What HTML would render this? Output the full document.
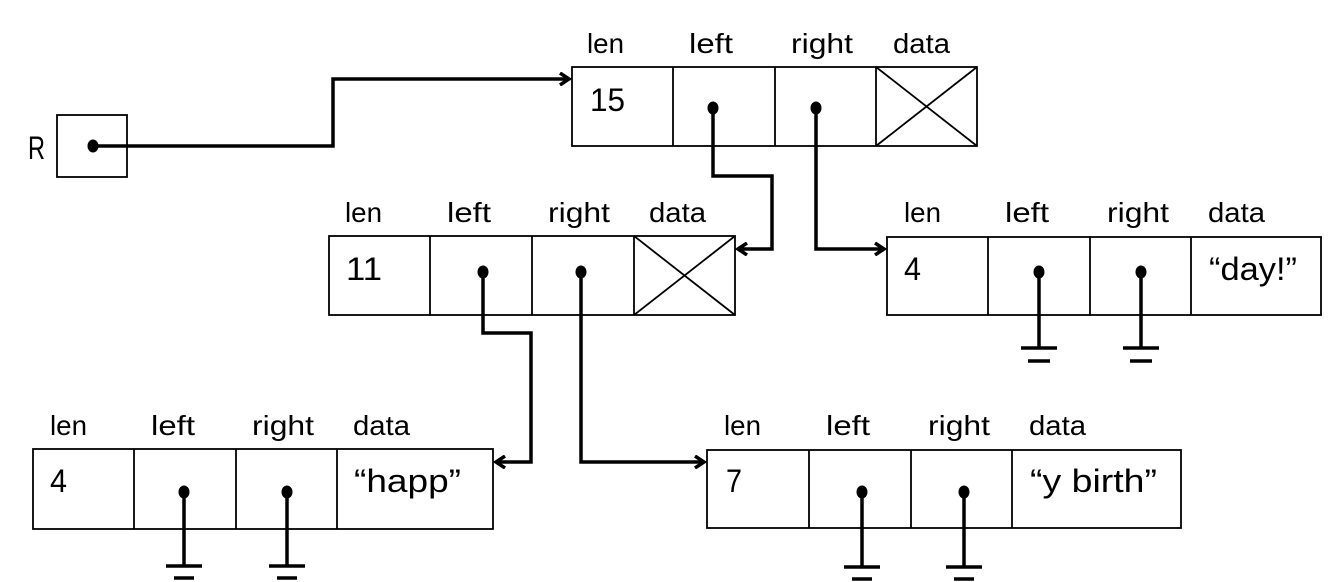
<!DOCTYPE html>
<html><head><meta charset="utf-8"><style>
html,body{margin:0;padding:0;background:#fff;}
svg{display:block;}
text{font-family:"Liberation Sans Narrow","Liberation Sans",sans-serif;font-size:28px;fill:#000;}
.v{font-size:32px;}
</style></head><body>
<svg width="1333" height="582" viewBox="0 0 1333 582" xmlns="http://www.w3.org/2000/svg">
<defs>
<marker id="ah" markerWidth="14" markerHeight="14" refX="11" refY="7" orient="auto" markerUnits="userSpaceOnUse">
<path d="M2,1 L11,7 L2,13" fill="none" stroke="#000" stroke-width="3.5"/>
</marker>
</defs>
<g fill="none" stroke="#000" stroke-width="1.8">
<rect x="57" y="115" width="70" height="62"/>
<rect x="572" y="67" width="405" height="79"/>
<line x1="673" y1="67" x2="673" y2="146"/><line x1="775" y1="67" x2="775" y2="146"/><line x1="876" y1="67" x2="876" y2="146"/>
<line x1="876" y1="67" x2="977" y2="146"/><line x1="977" y1="67" x2="876" y2="146"/>
<rect x="329" y="236" width="406" height="79"/>
<line x1="430" y1="236" x2="430" y2="315"/><line x1="532" y1="236" x2="532" y2="315"/><line x1="634" y1="236" x2="634" y2="315"/>
<line x1="634" y1="236" x2="735" y2="315"/><line x1="735" y1="236" x2="634" y2="315"/>
<rect x="887" y="237" width="434" height="78"/>
<line x1="988" y1="237" x2="988" y2="315"/><line x1="1090" y1="237" x2="1090" y2="315"/><line x1="1191" y1="237" x2="1191" y2="315"/>
<rect x="33" y="449" width="460" height="80"/>
<line x1="134" y1="449" x2="134" y2="529"/><line x1="236" y1="449" x2="236" y2="529"/><line x1="337" y1="449" x2="337" y2="529"/>
<rect x="707" y="450" width="474" height="78"/>
<line x1="809" y1="450" x2="809" y2="528"/><line x1="911" y1="450" x2="911" y2="528"/><line x1="1012" y1="450" x2="1012" y2="528"/>
</g>
<g fill="none" stroke="#000" stroke-width="3.5">
<path d="M93,146 H333 V79 H569" marker-end="url(#ah)"/>
<path d="M713,108 V176 H772 V249 H738" marker-end="url(#ah)"/>
<path d="M816,108 V249 H884" marker-end="url(#ah)"/>
<path d="M483,272 V333 H531 V462 H496" marker-end="url(#ah)"/>
<path d="M581,272 V462 H704" marker-end="url(#ah)"/>
<path d="M1039,272 V348 M1021,348 H1057 M1028,361 H1050"/>
<path d="M1141,272 V348 M1123,348 H1159 M1130,361 H1152"/>
<path d="M184,492 V566 M166,566 H202 M174,578 H194"/>
<path d="M287,492 V566 M269,566 H305 M277,578 H297"/>
<path d="M862,492 V567 M844,567 H880 M852,579 H872"/>
<path d="M964,492 V567 M946,567 H982 M954,579 H974"/>
</g>
<g fill="#000">
<ellipse cx="93" cy="146" rx="5.5" ry="6.5"/>
<ellipse cx="713" cy="108" rx="5.5" ry="6.5"/><ellipse cx="816" cy="108" rx="5.5" ry="6.5"/>
<ellipse cx="483" cy="272" rx="5.5" ry="6.5"/><ellipse cx="581" cy="272" rx="5.5" ry="6.5"/>
<ellipse cx="1039" cy="272" rx="5.5" ry="6.5"/><ellipse cx="1141" cy="272" rx="5.5" ry="6.5"/>
<ellipse cx="184" cy="492" rx="5.5" ry="6.5"/><ellipse cx="287" cy="492" rx="5.5" ry="6.5"/>
<ellipse cx="862" cy="492" rx="5.5" ry="6.5"/><ellipse cx="964" cy="492" rx="5.5" ry="6.5"/>
</g>
<text class="v" x="28" y="159" textLength="17" lengthAdjust="spacingAndGlyphs">R</text>
<text x="587" y="53" textLength="37" lengthAdjust="spacingAndGlyphs">len</text><text x="689" y="53" textLength="44" lengthAdjust="spacingAndGlyphs">left</text><text x="791" y="53" textLength="62" lengthAdjust="spacingAndGlyphs">right</text><text x="893" y="53" textLength="57" lengthAdjust="spacingAndGlyphs">data</text>
<text class="v" x="590" y="111" textLength="35" lengthAdjust="spacingAndGlyphs">15</text>
<text x="345" y="222" textLength="37" lengthAdjust="spacingAndGlyphs">len</text><text x="447" y="222" textLength="44" lengthAdjust="spacingAndGlyphs">left</text><text x="548" y="222" textLength="62" lengthAdjust="spacingAndGlyphs">right</text><text x="649" y="222" textLength="57" lengthAdjust="spacingAndGlyphs">data</text>
<text class="v" x="346" y="280" textLength="36" lengthAdjust="spacingAndGlyphs">11</text>
<text x="904" y="222" textLength="37" lengthAdjust="spacingAndGlyphs">len</text><text x="1005" y="222" textLength="44" lengthAdjust="spacingAndGlyphs">left</text><text x="1107" y="222" textLength="62" lengthAdjust="spacingAndGlyphs">right</text><text x="1208" y="222" textLength="57" lengthAdjust="spacingAndGlyphs">data</text>
<text class="v" x="904" y="280" textLength="17" lengthAdjust="spacingAndGlyphs">4</text><text class="v" x="1209" y="280" textLength="88" lengthAdjust="spacingAndGlyphs">“day!”</text>
<text x="50" y="435" textLength="37" lengthAdjust="spacingAndGlyphs">len</text><text x="151" y="435" textLength="44" lengthAdjust="spacingAndGlyphs">left</text><text x="252" y="435" textLength="62" lengthAdjust="spacingAndGlyphs">right</text><text x="353" y="435" textLength="57" lengthAdjust="spacingAndGlyphs">data</text>
<text class="v" x="50" y="492" textLength="17" lengthAdjust="spacingAndGlyphs">4</text><text class="v" x="354" y="492" textLength="107" lengthAdjust="spacingAndGlyphs">“happ”</text>
<text x="724" y="435" textLength="37" lengthAdjust="spacingAndGlyphs">len</text><text x="826" y="435" textLength="44" lengthAdjust="spacingAndGlyphs">left</text><text x="928" y="435" textLength="62" lengthAdjust="spacingAndGlyphs">right</text><text x="1029" y="435" textLength="57" lengthAdjust="spacingAndGlyphs">data</text>
<text class="v" x="726" y="492" textLength="16" lengthAdjust="spacingAndGlyphs">7</text><text class="v" x="1030" y="492" textLength="127" lengthAdjust="spacingAndGlyphs">“y birth”</text>
</svg>
</body></html>
